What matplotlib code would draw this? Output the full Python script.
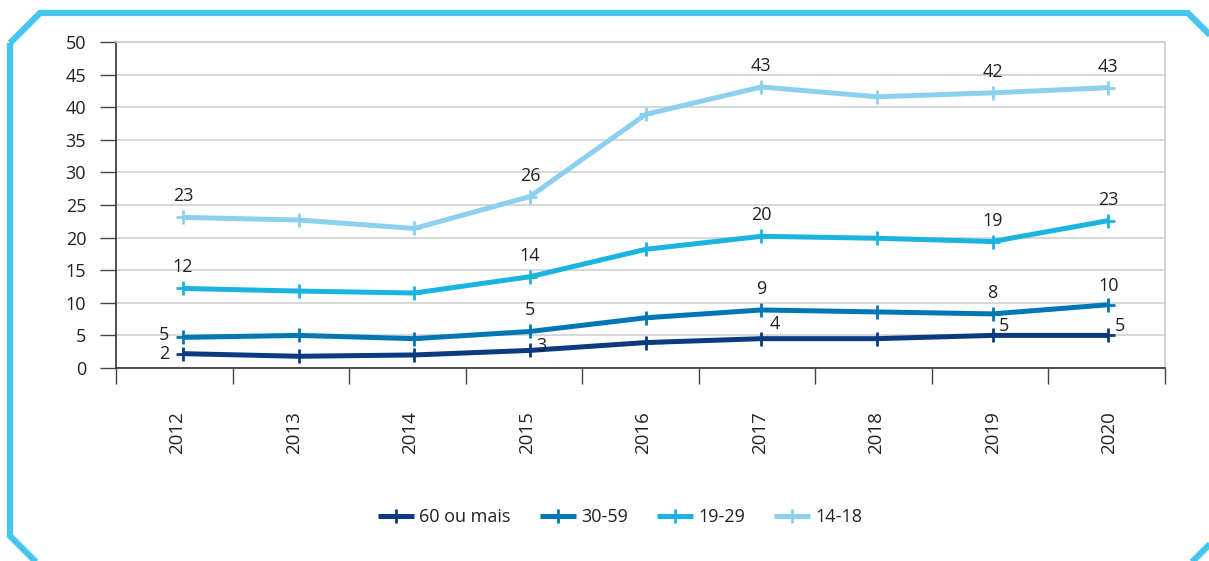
import matplotlib
matplotlib.use("Agg")
import matplotlib.pyplot as plt
from matplotlib.patches import Polygon
import numpy as np

plt.rcParams['font.family'] = ['Open Sans', 'DejaVu Sans']

years = ["2012", "2013", "2014", "2015", "2016", "2017", "2018", "2019", "2020"]
series_names = ["60 ou mais", "30-59", "19-29", "14-18"]
v60 = [2.2, 1.8, 2.0, 2.7, 3.9, 4.5, 4.5, 5.0, 5.0]
v30 = [4.7, 5.0, 4.5, 5.6, 7.7, 8.9, 8.6, 8.3, 9.7]
v19 = [12.2, 11.8, 11.5, 14.0, 18.2, 20.2, 19.9, 19.4, 22.6]
v14 = [23.1, 22.7, 21.4, 26.3, 38.9, 43.1, 41.6, 42.2, 43.0]
colors = ["#0c3a80", "#0077b4", "#1bb3e0", "#8ccfee"]

# labels: (index, text, dx_px, dy_px, ha, va)
labels60 = [(0, "2", -14, 0, "right", "center"), (3, "3", 6, 4, "left", "center"),
            (5, "4", 8, 6, "left", "bottom"), (7, "5", 6, 0, "left", "bottom"),
            (8, "5", 6, 0, "left", "bottom")]
labels30 = [(0, "5", -14, 2, "right", "center"), (3, "5", 0, 12, "center", "bottom"),
            (5, "9", 0, 12, "center", "bottom"), (7, "8", 0, 12, "center", "bottom"),
            (8, "10", 0, 10, "center", "bottom")]
labels19 = [(0, "12", 0, 12, "center", "bottom"), (3, "14", 0, 12, "center", "bottom"),
            (5, "20", 0, 12, "center", "bottom"), (7, "19", 0, 12, "center", "bottom"),
            (8, "23", 0, 12, "center", "bottom")]
labels14 = [(0, "23", 0, 12, "center", "bottom"), (3, "26", 0, 12, "center", "bottom"),
            (5, "43", 0, 12, "center", "bottom"), (7, "42", 0, 12, "center", "bottom"),
            (8, "43", 0, 12, "center", "bottom")]

W, H = 1209, 561
fig = plt.figure(figsize=(W / 100, H / 100), dpi=100)

# frame (octagon, partly outside the figure)
fx = lambda x: x / W
fy = lambda y: 1 - y / H
pts = [(10, 43), (40, 13), (1188, 13), (1240, 65), (1240, 514), (1180, 574),
       (48, 574), (10, 536)]
frame = Polygon([(fx(x), fy(y)) for x, y in pts], closed=True, fill=False,
                edgecolor="#45c6ef", lw=4.5, transform=fig.transFigure,
                joinstyle="miter")
fig.patches.append(frame)

ax = fig.add_axes([116 / W, 1 - 368 / H, (1165 - 116) / W, (368 - 42) / H])
x = np.arange(len(years))
allvals = [v60, v30, v19, v14]
alllabels = [labels60, labels30, labels19, labels14]
for vals, name, c in zip(allvals, series_names, colors):
    ax.plot(x, vals, color=c, lw=3.6, marker="+", markersize=10, mew=2.0,
            label=name, solid_capstyle="butt", zorder=3)

for vals, labs in zip(allvals, alllabels):
    for i, t, dx, dy, ha, va in labs:
        ax.annotate(t, (x[i], vals[i]), xytext=(dx * 0.72, dy * 0.72),
                    textcoords="offset points", ha=ha, va=va, fontsize=13,
                    color="#222222", zorder=4)

x0, x1 = -0.58, 8.49
ax.set_xlim(x0, x1)
ax.set_ylim(0, 50)
ax.set_yticks(np.arange(0, 51, 5))
ax.grid(axis="y", color="#d4d4d4", lw=1.3)
ax.set_axisbelow(True)
ax.tick_params(axis="y", direction="out", length=11.5, width=1, color="#444444",
               labelsize=13, labelcolor="#222222", pad=10)
bounds = np.linspace(x0, x1, len(years) + 1)
ax.set_xticks(bounds)
ax.set_xticklabels([])
ax.tick_params(axis="x", which="major", direction="out", length=11.5, width=1,
               color="#444444")
ax.set_xticks((bounds[:-1] + bounds[1:]) / 2 + 0.025, minor=True)
ax.set_xticklabels(years, minor=True, rotation=90, fontsize=13.5, color="#222222")
ax.tick_params(axis="x", which="minor", length=0, pad=31)
for side in ["left", "bottom"]:
    ax.spines[side].set_color("#333333")
    ax.spines[side].set_linewidth(1.2)
for side in ["top", "right"]:
    ax.spines[side].set_color("#cccccc")
    ax.spines[side].set_linewidth(1.2)

leg = fig.legend(loc="center", bbox_to_anchor=(0.513, 1 - 517 / H), ncol=4,
                 frameon=False, fontsize=13, handlelength=2.0, columnspacing=1.6,
                 handletextpad=0.3)
for t in leg.get_texts():
    t.set_color("#222222")

fig.savefig("out.png", dpi=100)
